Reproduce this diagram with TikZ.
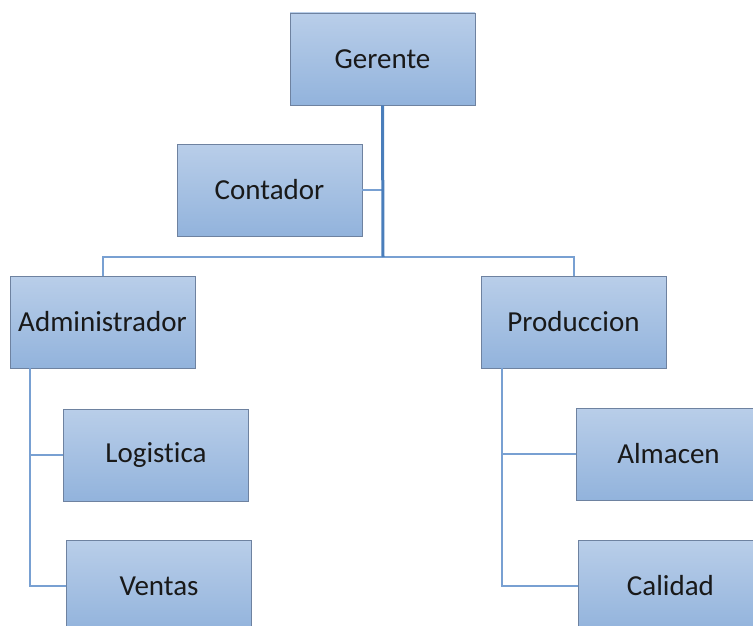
\documentclass[tikz,border=0pt]{standalone}
\usepackage{fontspec}
\setmainfont{Carlito}[Ligatures=NoCommon]
\usepackage{tikz}
\usetikzlibrary{positioning}
\definecolor{boxtop}{RGB}{185, 206, 233}
\definecolor{boxbottom}{RGB}{146, 179, 220}
\definecolor{boxedge}{RGB}{110, 130, 160}
\definecolor{linkmain}{RGB}{74, 126, 187}
\definecolor{linkside}{RGB}{120, 160, 210}

\begin{document}
\begin{tikzpicture}[x=1pt, y=-1pt,
    rolebox/.style={draw=boxedge, line width=0.8pt, top color=boxtop, bottom color=boxbottom,
        minimum width=185pt, minimum height=92pt, inner sep=0pt,
        font=\fontsize{29}{34}\selectfont, text=black!90},
    link/.style={draw=linkside, line width=2pt},
    trunk/.style={draw=linkmain, line width=3pt}]
\useasboundingbox (0,0) rectangle (753,626);

% Top of the chart
\node[rolebox] (gerente) at (382.5,59) {Gerente};
\node[rolebox] (contador) at (269.5,190) {Contador};

% Departments
\node[rolebox] (admin) at (102.5,322) {Administrador};
\node[rolebox] (prod) at (573.5,322) {Produccion};

% Sub-units
\node[rolebox] (logistica) at (156,455) {Logistica};
\node[rolebox] (ventas) at (159,586) {Ventas};
\node[rolebox] (almacen) at (668.5,454) {Almacen};
\node[rolebox] (calidad) at (670.5,586) {Calidad};

% Connectors
\coordinate (bus) at (383,257);
\coordinate (adminleg) at ([xshift=20pt]admin.south west);
\coordinate (prodleg) at ([xshift=21pt]prod.south west);
\draw[link] (admin.north) |- (bus) -| (prod.north);
\draw[link] (contador.east) -- (contador.east -| bus);
\draw[trunk] (gerente.south) -- (bus);
\draw[link] (adminleg) |- (logistica.west);
\draw[link] (adminleg) |- (ventas.west);
\draw[link] (prodleg) |- (almacen.west);
\draw[link] (prodleg) |- (calidad.west);
\end{tikzpicture}
\end{document}
